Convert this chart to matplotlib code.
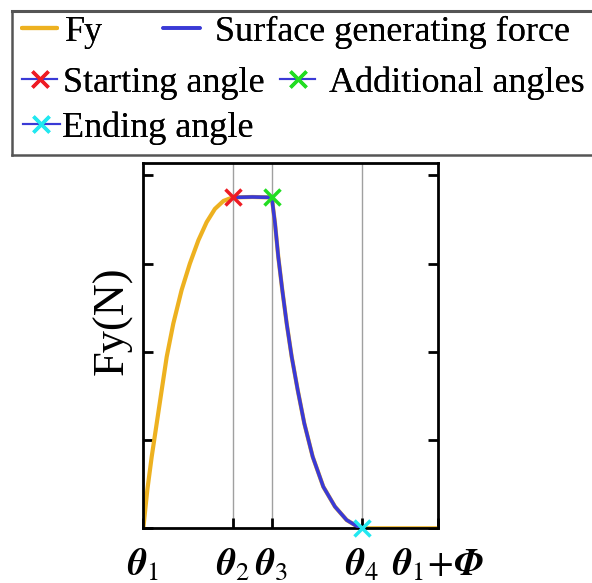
import matplotlib

matplotlib.use("Agg")
import matplotlib.pyplot as plt
from matplotlib.lines import Line2D

plt.rcParams["font.family"] = ["Liberation Serif", "DejaVu Serif"]
plt.rcParams["mathtext.fontset"] = "stix"

# angle positions (theta1 = 0, theta1 + Phi = 1)
angle_pos = [0.0, 0.303, 0.436, 0.741, 1.0]
angle_labels = [r"$\mathbfit{\theta}_1$", r"$\mathbfit{\theta}_2$",
                r"$\mathbfit{\theta}_3$", r"$\mathbfit{\theta}_4$",
                r"$\mathbfit{\theta}_1\!+\!\mathbfit{\Phi}$"]

# Fy curve
rise_x = [0.0, 0.0136, 0.0285, 0.0455, 0.0624, 0.0794, 0.1018, 0.130,
          0.158, 0.187, 0.215, 0.243, 0.272, 0.303]
rise_y = [0.0, 0.434, 0.811, 1.189, 1.566, 1.943, 2.32, 2.70,
          3.00, 3.265, 3.47, 3.62, 3.71, 3.75]
flat_x = [0.303, 0.37, 0.436]
flat_y = [3.75, 3.755, 3.75]
fall_x = [0.436, 0.447, 0.458, 0.4717, 0.4866, 0.5036, 0.524, 0.5463,
          0.5748, 0.6108, 0.6505, 0.690, 0.718, 0.741]
fall_y = [3.75, 3.454, 3.076, 2.699, 2.32, 1.943, 1.566, 1.189,
          0.811, 0.471, 0.245, 0.094, 0.037, 0.0]
tail_x = [0.741, 1.0]
tail_y = [0.0, 0.0]

yellow = "#EDB120"
blue = "#3a3ad6"

fy_x = rise_x + flat_x[1:] + fall_x[1:] + tail_x[1:]
fy_y = rise_y + flat_y[1:] + fall_y[1:] + tail_y[1:]
sg_x = flat_x + fall_x[1:]
sg_y = flat_y + fall_y[1:]

W, H = 592, 583
fig = plt.figure(figsize=(W / 100, H / 100), dpi=100)
ax = fig.add_axes([143.3 / W, 1 - 528.3 / H, 294.7 / W, 365.3 / H])

for xv in angle_pos[1:4]:
    ax.axvline(xv, color="#a0a0a0", lw=1.0, zorder=1)

h_fy, = ax.plot(fy_x, fy_y, color=yellow, lw=3, zorder=2,
                solid_joinstyle="round", solid_capstyle="round")
h_sg, = ax.plot(sg_x, sg_y, color=blue, lw=2.6, zorder=3,
                solid_joinstyle="round", solid_capstyle="round")

mk = dict(color=blue, marker="x", ms=12, mew=2.5, zorder=4, clip_on=False)
h_st, = ax.plot([flat_x[0]], [flat_y[0]], mec="#ee1c24", **mk)
h_ad, = ax.plot([flat_x[-1]], [flat_y[-1]], mec="#22dd22", **mk)
h_en, = ax.plot([fall_x[-1]], [fall_y[-1]], mec="#22e8f0", **mk)

ax.set_xlim(0, 1)
ax.set_ylim(0, 4.14)
ax.set_xticks(angle_pos)
ax.set_xticklabels(angle_labels, fontsize=27)
ax.set_yticks([0, 1, 2, 3, 4])
ax.set_yticklabels([])
ax.tick_params(axis="y", direction="in", length=7, width=2, left=True, right=True)
ax.tick_params(axis="x", direction="in", length=7, width=2, pad=14)
for sp in ax.spines.values():
    sp.set_linewidth(2)
ax.set_ylabel("Fy(N)", fontsize=32)
ax.yaxis.set_label_coords(-0.035, 0.567)

# legend box, open on the right because it runs off the figure edge
bx0, by0, by1 = 12 / W, 1 - 155 / H, 1 - 11 / H
fig.add_artist(Line2D([bx0, bx0], [by0, by1], transform=fig.transFigure,
                      color="#555555", lw=1.8))
fig.add_artist(Line2D([bx0, 1.0], [by0, by0], transform=fig.transFigure,
                      color="#555555", lw=1.8))
fig.add_artist(Line2D([bx0, 1.0], [by1, by1], transform=fig.transFigure,
                      color="#555555", lw=2.2))

# one entry per legend so every handle sits where the original has it
entries = [
    (h_fy, "Fy", 22, 32, 0.97, 0.22),
    (h_sg, "Surface generating force", 163, 32, 1.02, 0.42),
    (h_st, "Starting angle", 22, 83, 0.97, 0.17),
    (h_ad, "Additional angles", 280, 83, 0.97, 0.39),
    (h_en, "Ending angle", 23, 128, 1.02, 0.06),
]
for handle, text, px, py, hl, pad in entries:
    lg = fig.legend([handle], [text], loc="center left",
                    bbox_to_anchor=(px / W, 1 - py / H), fontsize=26,
                    frameon=False, borderpad=0, borderaxespad=0,
                    handlelength=hl, handletextpad=pad)
    fig.add_artist(lg)

fig.savefig("out.png", dpi=100)
